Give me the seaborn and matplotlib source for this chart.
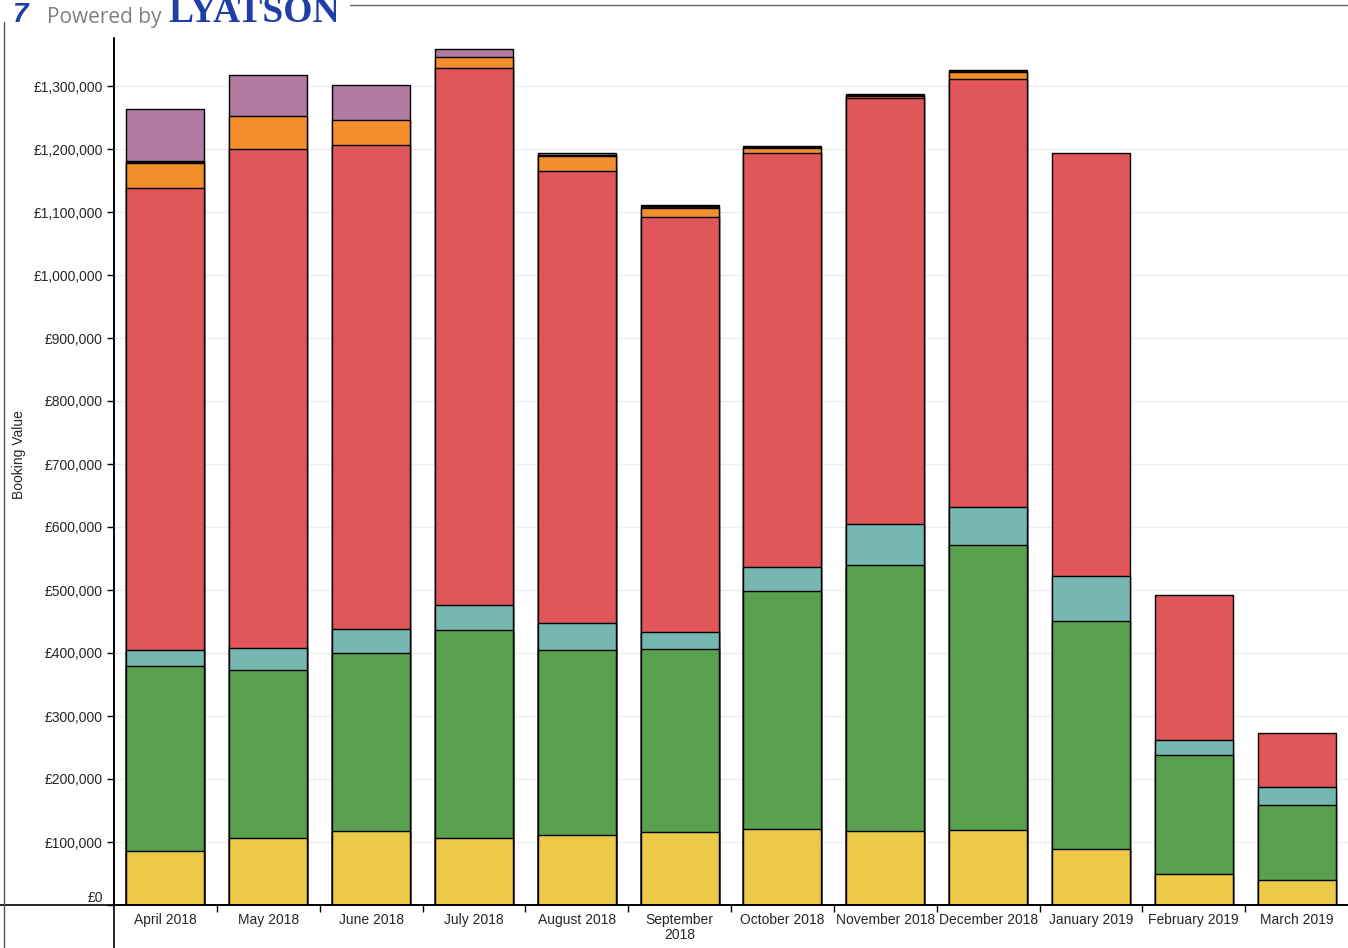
import matplotlib
matplotlib.use("Agg")
import matplotlib.pyplot as plt
import seaborn as sns
import numpy as np
import pandas as pd
from matplotlib.lines import Line2D
from matplotlib.transforms import ScaledTranslation

months = ["April 2018", "May 2018", "June 2018", "July 2018", "August 2018",
          "September\n2018", "October 2018", "November 2018", "December 2018",
          "January 2019", "February 2019", "March 2019"]

# segment values (GBP), bottom to top
yellow = [86000, 106000, 117500, 106000, 111000, 116000, 120600, 117500, 119000, 89400, 49200, 39700]
green  = [293500, 267000, 282500, 330500, 294000, 290000, 377400, 422000, 452400, 361400, 189400, 119500]
teal   = [25400, 35000, 38000, 39500, 42600, 27000, 38500, 65000, 60300, 72000, 23800, 27600]
red    = [733200, 792000, 768000, 853000, 718000, 658600, 656500, 676200, 678900, 670800, 229200, 86700]
orange = [39800, 52000, 40500, 17500, 23500, 14400, 8000, 4000, 10900, 0, 0, 0]
black  = [2400, 0, 0, 0, 1000, 4600, 3000, 3000, 3500, 0, 0, 0]
purple = [83500, 65000, 55500, 12500, 3000, 0, 0, 0, 0, 0, 0, 0]

layers = [("yellow", yellow, "#EDC948"), ("green", green, "#59A14F"),
          ("teal", teal, "#76B7B2"), ("red", red, "#E15759"),
          ("orange", orange, "#F28E2B"), ("black", black, "#111111"),
          ("purple", purple, "#B07AA1")]

yticks = list(range(0, 1300001, 100000))
ytick_labels = ["£0"] + [f"£{v:,}" for v in yticks[1:]]

sns.set_theme(style="white")
plt.rcParams['font.family'] = ['Liberation Sans', 'DejaVu Sans']

W, H = 1348, 948
fig = plt.figure(figsize=(W / 100, H / 100), dpi=100)
ax = fig.add_axes([114 / W, (H - 905) / H, (W - 114) / W, (905 - 38) / H])

cum = np.zeros(len(months))
cums = []
for name, vals, col in layers:
    vals = np.array(vals, dtype=float)
    cum = cum + vals
    cums.append((name, cum.copy(), vals, col))

# draw cumulative bars from top layer down so lower ones overlay
for name, c, vals, col in reversed(cums):
    mask = vals > 0
    df = pd.DataFrame({"month": np.array(months)[mask], "value": c[mask]})
    sns.barplot(data=df, x="month", y="value", order=months, color=col,
                saturation=1, width=0.76, edgecolor="black", linewidth=1,
                ax=ax, errorbar=None)

ax.set_xlim(-0.5, 11.5)
ax.set_ylim(0, (905 - 38) * 100000 / 63)
ax.set_yticks(yticks)
ax.set_yticklabels(ytick_labels, fontsize=10)
ax.set_xticks(range(len(months)))
ax.set_xticklabels(months, fontsize=10, linespacing=1.1)
ax.set_xticks([i + 0.5 for i in range(11)], minor=True)
ax.tick_params(axis="x", which="major", length=0, pad=6)
ax.tick_params(axis="x", which="minor", length=5, width=1, color="black", bottom=True)
ax.tick_params(axis="y", length=5, width=1, color="black", left=True, pad=3)
ax.set_xlabel("")
ax.set_ylabel("Booking Value", fontsize=10)
ax.yaxis.set_label_coords((26 - 114) / (W - 114), 0.52)
ax.yaxis.grid(True, color="#eeeeee", linewidth=1)
ax.set_axisbelow(True)
for s in ["top", "right"]:
    ax.spines[s].set_visible(False)
ax.spines["left"].set_color("black")
ax.spines["bottom"].set_color("black")
ax.spines["left"].set_linewidth(1.2)
ax.spines["bottom"].set_linewidth(1.2)

# raise the "£0" label above the axis line
lbl0 = ax.get_yticklabels()[0]
lbl0.set_transform(lbl0.get_transform() + ScaledTranslation(0, 8 / 100, fig.dpi_scale_trans))

# frame lines extending beyond the axes
fig.add_artist(Line2D([0, 1], [(H - 905) / H] * 2, color="black", lw=1.2, transform=fig.transFigure))
fig.add_artist(Line2D([114 / W] * 2, [0, (H - 38) / H], color="black", lw=1.2, transform=fig.transFigure))
fig.add_artist(Line2D([3.5 / W] * 2, [0, (H - 22) / H], color="#555555", lw=1, transform=fig.transFigure))
fig.add_artist(Line2D([350 / W, 1], [(H - 5) / H] * 2, color="#666666", lw=1, transform=fig.transFigure))

# logo
fig.text(12 / W, (H - 22) / H, "7", fontsize=20, color="#1f3fa6", fontweight="bold",
         fontstyle="italic", ha="left", va="baseline")
fig.text(47 / W, (H - 23) / H, "Powered by", fontsize=15, color="#808080",
         ha="left", va="baseline", family=["Open Sans", "DejaVu Sans"])
fig.text(168 / W, (H - 22) / H, "LYATSON", fontsize=27, color="#1f3fa6", fontweight="bold",
         ha="left", va="baseline", family=["Liberation Serif", "DejaVu Serif"])

fig.savefig("out.png", dpi=100)
